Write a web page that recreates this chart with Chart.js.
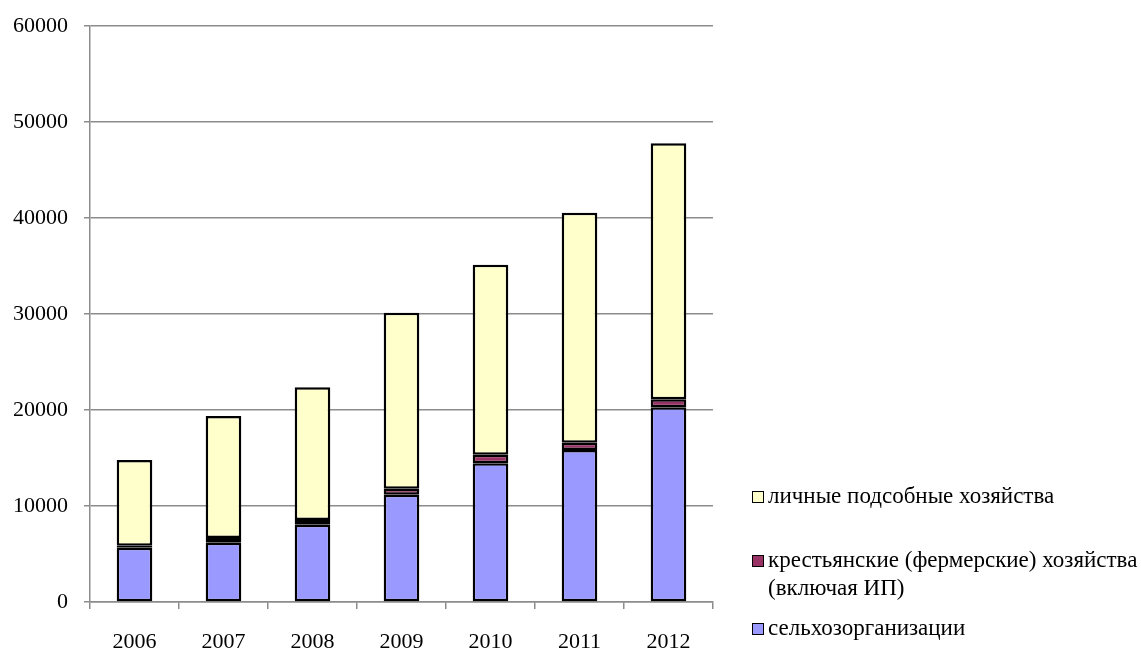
<!DOCTYPE html>
<html>
<head>
<meta charset="utf-8">
<script src="https://cdn.jsdelivr.net/npm/chart.js@4"></script>
<style>
  body { margin: 0; background: #fff; }
  #wrap { position: relative; width: 1141px; height: 648px; }
  #legend { position: absolute; left: 752px; top: 0; font-family: "Liberation Serif", serif; font-size: 23px; color: #000; }
  .item { position: absolute; left: 0; white-space: nowrap; line-height: 28px; }
  .box { position: absolute; left: 0; top: 9px; width: 10px; height: 10px; border: 1px solid #000; }
  .txt { position: absolute; left: 16px; top: 0; }
</style>
</head>
<body>
<div id="wrap">
  <canvas id="grafico" width="1141" height="648"></canvas>
  <div id="legend"></div>
</div>
<script>
// dados
const anos = ["2006", "2007", "2008", "2009", "2010", "2011", "2012"];
const selhoz = [5650, 6180, 8050, 11180, 14450, 15830, 20280];
const fermer = [220, 490, 490, 620, 890, 760, 830];
const lichnye = [8920, 12700, 13820, 18330, 19800, 23960, 26670];

const nomes = ["сельхозорганизации", "крестьянские (фермерские) хозяйства (включая ИП)", "личные подсобные хозяйства"];
const cores = ["#9999FF", "#993366", "#FFFFCC"];

Chart.defaults.font.family = "'Liberation Serif', serif";
Chart.defaults.font.size = 22;
Chart.defaults.color = "#000";

// grafico de barras empilhadas
let barras = new Chart(document.getElementById("grafico"), {
  type: "bar",
  data: {
    labels: anos,
    datasets: [
      { label: nomes[0], data: selhoz, backgroundColor: cores[0] },
      { label: nomes[1], data: fermer, backgroundColor: cores[1] },
      { label: nomes[2], data: lichnye, backgroundColor: cores[2] },
    ].map(d => Object.assign(d, { borderColor: "#000", borderWidth: 2.5, borderSkipped: false, barPercentage: 0.4, categoryPercentage: 1 })),
  },
  options: {
    responsive: false,
    animation: false,
    layout: { padding: { left: 0, top: 26, right: 428, bottom: 0 } },
    plugins: { legend: { display: false }, tooltip: { enabled: false } },
    scales: {
      x: {
        stacked: true,
        grid: { drawOnChartArea: false, drawTicks: true, tickLength: 7, color: "#8c8c8c", lineWidth: 1.5 },
        border: { color: "#8c8c8c", width: 1.5 },
        ticks: { padding: 20 },
        afterFit: s => { s.height = 46; },
      },
      y: {
        stacked: true,
        min: 0,
        max: 60000,
        grid: { color: "#8c8c8c", lineWidth: 1.5, tickLength: 6 },
        border: { color: "#8c8c8c", width: 1.5 },
        ticks: { stepSize: 10000, padding: 16, font: { lineHeight: 1 }, callback: v => String(v) },
        afterFit: s => { s.width = 90; s.paddingTop = 0; },
      },
    },
  },
});

// legenda em html (ordem invertida)
const legenda = [
  { nome: "личные подсобные хозяйства", cor: cores[2], top: 482 },
  { nome: "крестьянские (фермерские) хозяйства<br>(включая ИП)", cor: cores[1], top: 546 },
  { nome: "сельхозорганизации", cor: cores[0], top: 614 },
];
document.getElementById("legend").innerHTML = legenda.map(l =>
  `<div class="item" style="top:${l.top}px"><span class="box" style="background:${l.cor}"></span><span class="txt">${l.nome}</span></div>`
).join("");
</script>
</body>
</html>
